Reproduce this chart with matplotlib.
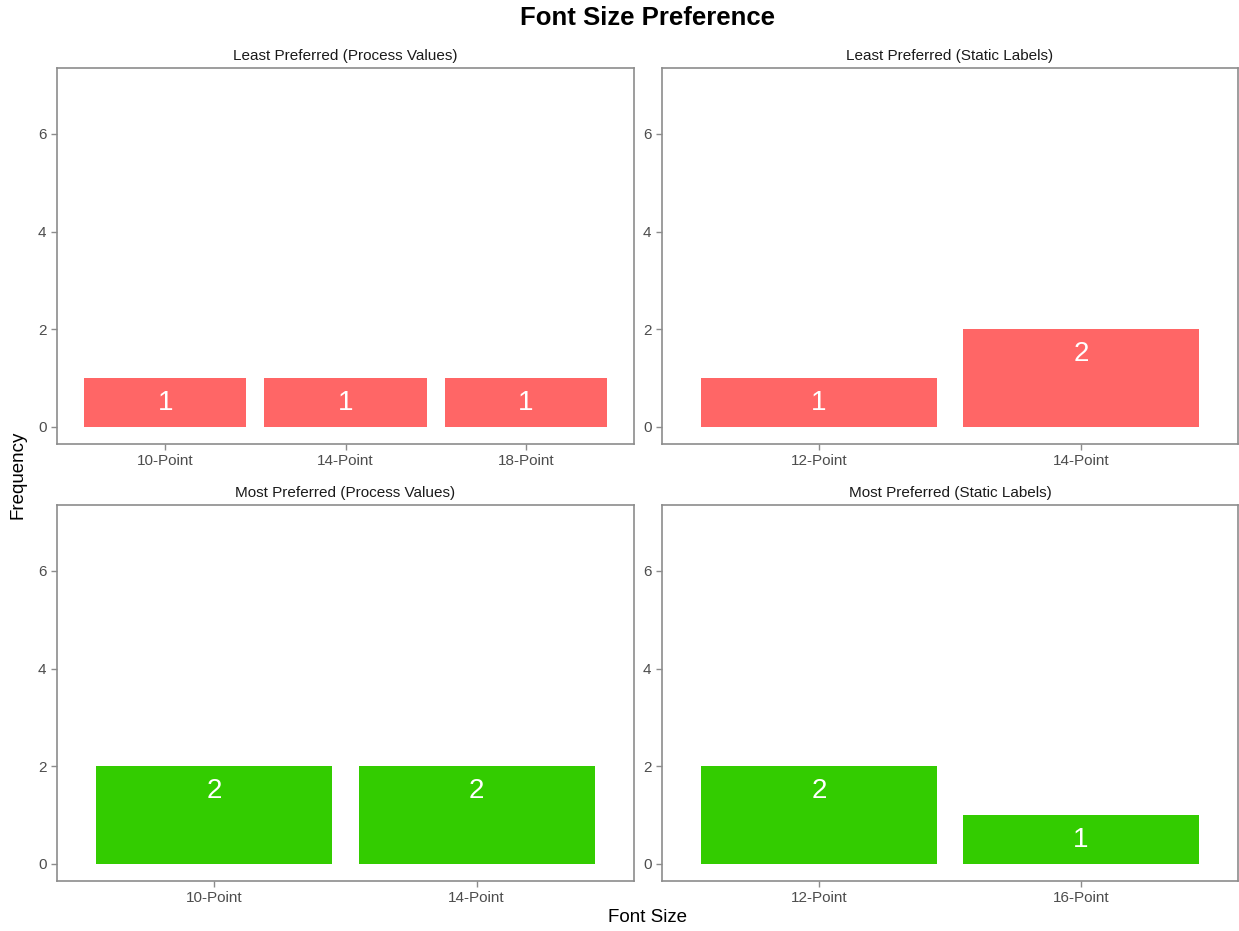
import matplotlib.pyplot as plt
import numpy as np

plt.rcParams['font.family'] = ['Liberation Sans', 'DejaVu Sans']

# dane
titles = ['Least Preferred (Process Values)', 'Least Preferred (Static Labels)',
          'Most Preferred (Process Values)', 'Most Preferred (Static Labels)']
categories = [['10-Point', '14-Point', '18-Point'],
              ['12-Point', '14-Point'],
              ['10-Point', '14-Point'],
              ['12-Point', '16-Point']]
counts = [[1, 1, 1],
          [1, 2],
          [2, 2],
          [2, 1]]
colors = ['#FF6666', '#FF6666', '#33CC00', '#33CC00']

W, H = 1239, 931
fig = plt.figure(figsize=(W / 100, H / 100), dpi=100)

# pozycje paneli w pikselach (lewo, góra, prawo, dół)
boxes = [(57, 68, 634, 444), (662, 68, 1238, 444),
         (57, 505, 634, 881), (662, 505, 1238, 881)]

border = '#8c8c8c'
for i in range(4):
    l, t, r, b = boxes[i]
    ax = fig.add_axes([l / W, 1 - b / H, (r - l) / W, (b - t) / H])
    x = np.arange(1, len(categories[i]) + 1)
    ax.bar(x, counts[i], width=0.9, color=colors[i])
    for xi, v in zip(x, counts[i]):
        ax.annotate(str(v), (xi, v), xytext=(0, -15.5), textcoords='offset points',
                    ha='center', va='center_baseline', color='white', fontsize=20)
    ax.set_xlim(0.4, len(x) + 0.6)
    ax.set_ylim(-0.35, 7.35)
    ax.set_xticks(x)
    ax.set_xticklabels(categories[i])
    ax.set_yticks([0, 2, 4, 6])
    ax.tick_params(colors='#4d4d4d', labelsize=11, length=4, width=1)
    ax.tick_params(axis='both', color=border)
    for s in ax.spines.values():
        s.set_color(border)
        s.set_linewidth(1.2)
    ax.set_title(titles[i], fontsize=11, color='#1a1a1a', pad=6)

fig.text(648 / W, 1 - 18 / H, 'Font Size Preference', ha='center', va='center',
         fontsize=18.5, fontweight='bold')
fig.text(647 / W, 1 - 918 / H, 'Font Size', ha='center', va='center', fontsize=13.5)
fig.text(18 / W, 1 - 475 / H, 'Frequency', ha='center', va='center',
         fontsize=13.5, rotation=90)

plt.savefig('out.png', dpi=100)
